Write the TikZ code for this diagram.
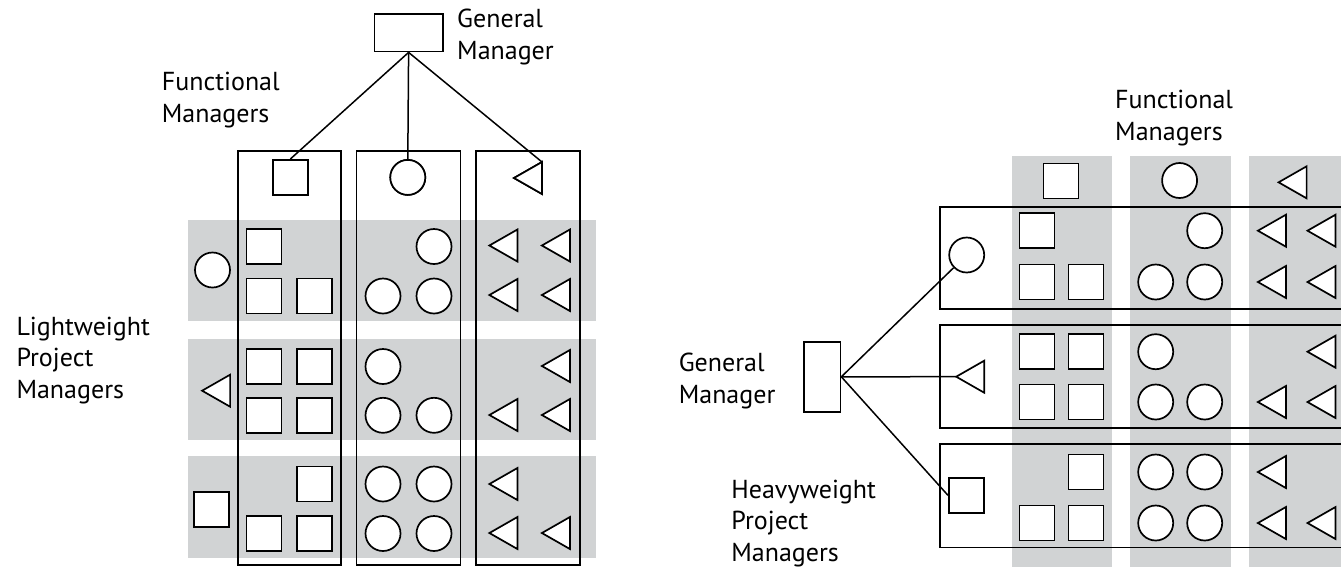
\documentclass[tikz,border=0pt]{standalone}
\usepackage{fontspec}
\setmainfont{PT Sans}
\definecolor{band}{RGB}{209,211,212}
\begin{document}
\begin{tikzpicture}[x=1pt,y=-1pt,
  outline/.style={draw=black,line width=1.7pt},
  sq/.style={outline,fill=white,rectangle,minimum size=35pt,inner sep=0pt},
  ci/.style={outline,fill=white,circle,minimum size=35pt,inner sep=0pt},
  boss/.style={outline,fill=white,rectangle,inner sep=0pt},
  frame/.style={draw=black,line width=1.8pt},
  link/.style={draw=black,line width=1.5pt},
  lbl/.style={font=\fontsize{26}{31.5}\selectfont,align=left,anchor=base west,inner sep=0pt},
  tri/.pic={\draw[outline,fill=white] (-14,0) coordinate (-apex) -- (14,-16) coordinate (-top) -- (14,16) -- cycle;}
]
\clip (0,0) rectangle (1341,566);
\useasboundingbox (0,0) rectangle (1341,566);

% ---------- lightweight structure (left) ----------
% project bands
\foreach \t/\b in {220/321, 339.3/440, 456/558.3}
  \fill[band] (188.3,\t) rectangle (596.1,\b);
% functional columns
\foreach \l/\r in {237.9/341, 356.4/460.4, 476.3/579.8}
  \draw[frame] (\l,150.7) rectangle (\r,565);

% general manager and functional managers
\node[boss,minimum width=68.5pt,minimum height=37.5pt] (lgm) at (408.6,32.8) {};
\node[sq] (lfs) at (290.3,177.4) {};
\node[ci] (lfc) at (407.8,177.4) {};
\pic (lft) at (528,178) {tri};
\draw[link] (lgm.south) -- (lfs.north);
\draw[link] (lgm.south) -- (lfc.north);
\draw[link] (lgm.south) -- (lft-top);
\node[sq] at (290.3,177.4) {};
\node[ci] at (407.8,177.4) {};
\pic at (528,178) {tri};

% lightweight project managers
\node[ci] (lpc) at (212.5,270) {};
\pic (lpt) at (216.1,390.7) {tri};
\node[sq] (lps) at (211.8,509.7) {};

% staff in each band
\foreach \n/\x/\y in {a/264/246.5, b/264/296, c/314.5/296, d/264/366.5, e/314.5/366.5,
    f/264/415.3, g/314.5/415.3, h/314.5/484, i/264/533.5, j/314.5/533.5}
  \node[sq] (ls\n) at (\x,\y) {};
\foreach \n/\x/\y in {a/434/246.5, b/383/296, c/434/296, d/383/366.5, e/383/415.3,
    f/434/415.3, g/383/484, h/434/484, i/383/533.5, j/434/533.5}
  \node[ci] (lc\n) at (\x,\y) {};
\foreach \n/\x/\y in {a/503.4/245.5, b/555.9/245.5, c/503.4/295, d/555.9/295, e/555.9/366,
    f/503.4/415, g/555.9/415, h/503.4/484, i/503.4/533, j/555.9/533}
  \pic (lt\n) at (\x,\y) {tri};

% labels (anchored at the baseline of their last line)
\node[lbl] (lgmtext) at (457,59) {General\\Manager};
\node[lbl] (lfmtext) at (161.7,122.2) {Functional\\Managers};
\node[lbl] (lpmtext) at (16.3,398) {Lightweight\\Project\\Managers};

% ---------- heavyweight structure (right) ----------
% functional columns
\foreach \l/\r in {1011.5/1112, 1130.4/1231.4, 1249.4/1360}
  \fill[band] (\l,155.7) rectangle (\r,570);
% project frames
\foreach \t/\b in {206.7/309, 325/428, 444.3/547.5}
  \draw[frame] (939.6,\t) rectangle (1370,\b);

% functional managers
\node[sq] (rfs) at (1061,181) {};
\node[ci] (rfc) at (1179.6,180.5) {};
\pic (rft) at (1292.6,182.3) {tri};

% general manager and heavyweight project managers
\node[boss,minimum width=36.2pt,minimum height=70.2pt] (rgm) at (822.4,376.8) {};
\node[ci] (rpc) at (966.7,255) {};
\pic (rpt) at (970.2,376.7) {tri};
\node[sq] (rps) at (966.3,495.3) {};
\draw[link] (rgm.east) -- (rpc);
\draw[link] (rgm.east) -- (rpt-apex);
\draw[link] (rgm.east) -- (rps.west);

% staff in each project
\foreach \n/\x/\y in {a/1037/230.7, b/1037/282, c/1086/282, d/1037/351.7, e/1086/351.7,
    f/1037/402, g/1086/402, h/1086/472, i/1037/523, j/1086/523}
  \node[sq] (rs\n) at (\x,\y) {};
\foreach \n/\x/\y in {a/1204.7/230.7, b/1155.7/282, c/1204.7/282, d/1155.7/351.7, e/1155.7/402,
    f/1204.7/402, g/1155.7/472, h/1204.7/472, i/1155.7/523, j/1204.7/523}
  \node[ci] (rc\n) at (\x,\y) {};
\foreach \n/\x/\y in {a/1271.9/230.7, b/1321.5/230.7, c/1271.9/282, d/1321.5/282, e/1321.5/351.7,
    f/1271.9/402, g/1321.5/402, h/1271.9/472, i/1271.9/523, j/1321.5/523}
  \pic (rt\n) at (\x,\y) {tri};

\node[lbl] (rfmtext) at (1115,140) {Functional\\Managers};
\node[lbl] (rgmtext) at (678.6,403.3) {General\\Manager};
\node[lbl] (rpmtext) at (731.2,561.3) {Heavyweight\\Project\\Managers};
\end{tikzpicture}
\end{document}
